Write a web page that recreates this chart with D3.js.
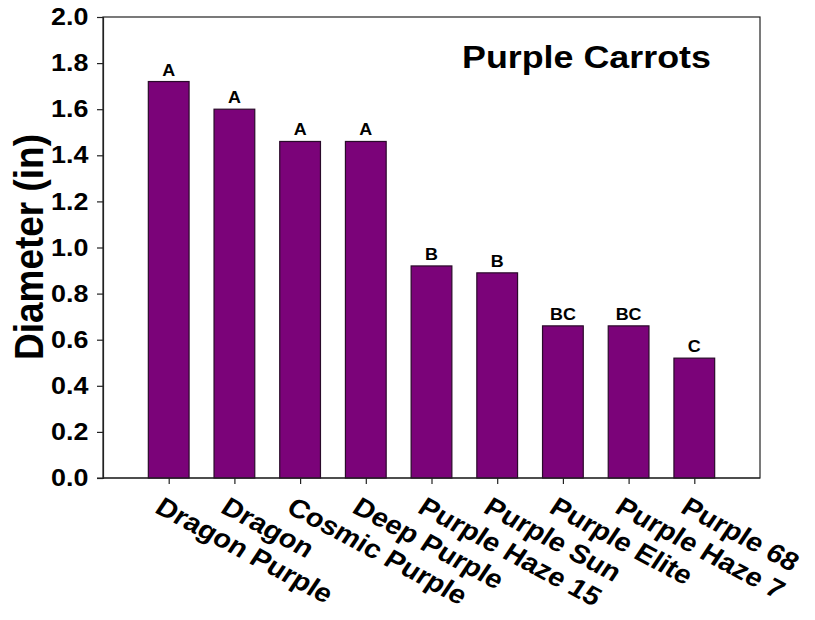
<!DOCTYPE html>
<html lang="en">
  <head>
    <meta charset="UTF-8" />
    <title>Purple Carrots</title>
    <script src="https://cdn.jsdelivr.net/npm/d3@7/dist/d3.min.js"></script>
    <style>
      body { margin: 0; background: #fff; }
      text { font-family: Arial, "Liberation Sans", sans-serif; font-weight: bold; }
    </style>
  </head>
  <body>
    <div id='app'></div>
    <script>
  const varieties = ['Dragon Purple', 'Dragon', 'Cosmic Purple', 'Deep Purple', 'Purple Haze 15',
    'Purple Sun', 'Purple Elite', 'Purple Haze 7', 'Purple 68']
  const diameters = [1.72, 1.60, 1.46, 1.46, 0.92, 0.89, 0.66, 0.66, 0.52]
  const groups = ['A', 'A', 'A', 'A', 'B', 'B', 'BC', 'BC', 'C']
  const yTicks = [0, 0.2, 0.4, 0.6, 0.8, 1.0, 1.2, 1.4, 1.6, 1.8, 2.0]

  const width = 815
  const height = 620
  const margin = {top: 17, right: 55, bottom: 142, left: 103}
  // the original figure is a bit wider than tall, so the lettering is stretched sideways
  const sx = 1.12

  const svg = d3.select('#app').append('svg')
    .attr('width', width)
    .attr('height', height)

  const x = d3.scalePoint()
    .domain(varieties)
    .range([margin.left, width - margin.right])
    .padding(1)

  const y = d3.scaleLinear()
    .domain([0, 2])
    .range([height - margin.bottom, margin.top])

  const barWidth = x.step() * 0.62

  // plot frame
  svg.append('rect')
    .attr('x', margin.left)
    .attr('y', margin.top)
    .attr('width', width - margin.right - margin.left)
    .attr('height', y(0) - margin.top)
    .attr('fill', 'none')
    .attr('stroke', '#222')
    .attr('stroke-width', 1.2)

  // bars
  svg.selectAll('rect.bar')
    .data(diameters)
    .join('rect')
    .attr('class', 'bar')
    .attr('x', (d, i) => x(varieties[i]) - barWidth / 2)
    .attr('y', d => y(d))
    .attr('width', barWidth)
    .attr('height', d => y(0) - y(d))
    .attr('fill', '#7b0379')
    .attr('stroke', '#2a0a2a')
    .attr('stroke-width', 1.2)

  // significance letters
  svg.selectAll('text.grp')
    .data(groups)
    .join('text')
    .attr('class', 'grp')
    .attr('transform', (d, i) => `translate(${x(varieties[i])},${y(diameters[i]) - 6}) scale(${sx},1)`)
    .attr('text-anchor', 'middle')
    .attr('font-size', 16)
    .text(d => d)

  // y axis
  const yAxis = svg.append('g')
    .attr('transform', `translate(${margin.left},0)`)
    .call(d3.axisLeft(y).tickValues(yTicks).tickFormat(d3.format('.1f')).tickSize(6).tickPadding(7))
  yAxis.select('.domain').attr('stroke', '#222').attr('stroke-width', 1.2)
  yAxis.selectAll('.tick line').attr('stroke', '#222').attr('stroke-width', 1.2)
  yAxis.selectAll('.tick text')
    .attr('font-size', 24)
    .attr('font-family', 'Arial, "Liberation Sans", sans-serif')
    .attr('font-weight', 'bold')
    .attr('fill', '#000')
    .attr('transform', `scale(${sx},1)`)

  // x axis
  const xAxis = svg.append('g')
    .attr('transform', `translate(0,${y(0)})`)
    .call(d3.axisBottom(x).tickSize(6).tickSizeOuter(0))
  xAxis.select('.domain').remove()
  xAxis.selectAll('.tick line').attr('stroke', '#222').attr('stroke-width', 1.2)
  xAxis.selectAll('.tick text')
    .attr('font-size', 26)
    .attr('font-family', 'Arial, "Liberation Sans", sans-serif')
    .attr('font-weight', 'bold')
    .attr('fill', '#000')
    .attr('text-anchor', 'start')
    .attr('dy', '0.71em')
    .attr('transform', `translate(-5,18) scale(${sx},1) rotate(31)`)
    .attr('y', 0)

  // baseline extends past the left axis like the 0.0 tick
  svg.append('line')
    .attr('x1', margin.left - 6)
    .attr('x2', width - margin.right)
    .attr('y1', y(0))
    .attr('y2', y(0))
    .attr('stroke', '#222')
    .attr('stroke-width', 1.2)

  // y label
  svg.append('text')
    .attr('transform', `translate(43,247) scale(${sx},1) rotate(-90)`)
    .attr('text-anchor', 'middle')
    .attr('font-size', 37)
    .text('Diameter (in)')

  // title
  svg.append('text')
    .attr('transform', `translate(462,68) scale(${sx},1)`)
    .attr('font-size', 32)
    .text('Purple Carrots')
    </script>
  </body>
</html>
